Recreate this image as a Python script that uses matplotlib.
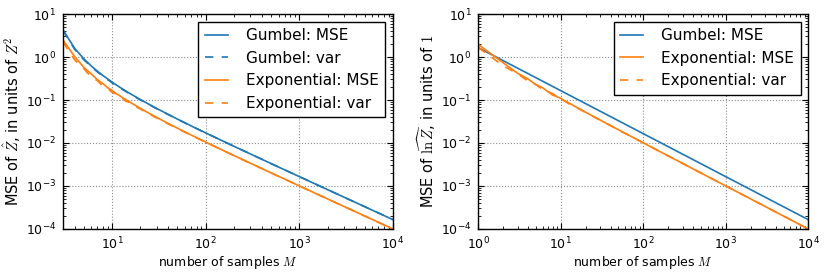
import matplotlib
matplotlib.use("Agg")
import matplotlib.pyplot as plt

# ---------------- data ----------------
# Left panel: MSE of Z-hat, units of Z^2
M_gum_left = [3, 4, 5, 6, 7, 8, 10, 12, 15, 20, 30, 50, 70, 100, 200, 500,
              1000, 2000, 5000, 10000]
gum_mse_left = [4.273, 1.579, 0.9069, 0.6207, 0.4663, 0.3711, 0.2614, 0.2007,
                0.1482, 0.1029, 0.06355, 0.03592, 0.02501, 0.01718, 0.008405,
                0.003318, 0.001652, 0.000824, 0.0003293, 0.0001646]
gum_var_left = [4.117, 1.508, 0.8666, 0.5946, 0.4481, 0.3576, 0.2533, 0.1952,
                0.1448, 0.1010, 0.06275, 0.03564, 0.02488, 0.01711, 0.008388,
                0.003315, 0.001651, 0.000824, 0.0003293, 0.0001646]

M_exp_left = [3, 4, 5, 6, 7, 8, 9, 10, 11, 12, 13, 14, 15, 17, 20, 25, 30, 40,
              50, 70, 100, 150, 200, 300, 500, 700, 1000, 2000, 5000, 10000]
exp_mse_left = [2.48, 1.02, 0.575, 0.405, 0.296, 0.241, 0.193, 0.168, 0.142,
                0.128, 0.112, 0.103, 0.0928, 0.0795, 0.0641, 0.0489, 0.0394,
                0.02834, 0.02211, 0.01535, 0.01051, 0.006893, 0.005127,
                0.003389, 0.002020, 0.001439, 0.001005, 0.000501, 0.0002002,
                0.00010005]
exp_var_left = [2.22, 0.86, 0.535, 0.345, 0.281, 0.209, 0.186, 0.150, 0.139,
                0.115, 0.109, 0.094, 0.0895, 0.0745, 0.0620, 0.0470, 0.0382,
                0.02768, 0.02169, 0.01514, 0.01041, 0.006848, 0.005101,
                0.003378, 0.002016, 0.001437, 0.001004, 0.0005005, 0.0002001,
                0.0001000]

# Right panel: MSE of ln Z-hat, units of 1
M_gum_right = [1, 2, 3, 4, 5, 6, 8, 10, 15, 20, 30, 50, 100, 200, 500, 1000,
               2000, 5000, 10000]
gum_mse_right = [1.645, 0.8225, 0.5483, 0.4112, 0.3290, 0.2742, 0.2056, 0.1645,
                 0.1097, 0.08225, 0.05483, 0.03290, 0.01645, 0.008225,
                 0.003290, 0.001645, 0.0008225, 0.0003290, 0.0001645]

M_exp_right = [1, 2, 3, 4, 5, 6, 7, 8, 9, 10, 11, 12, 15, 20, 30, 50, 70, 100,
               200, 500, 1000, 2000, 5000, 10000]
exp_mse_right = [1.95, 0.735, 0.418, 0.309, 0.226, 0.193, 0.155, 0.140, 0.118,
                 0.1095, 0.0962, 0.0893, 0.0703, 0.0519, 0.03418, 0.02030,
                 0.01444, 0.010075, 0.005019, 0.002003, 0.0010008, 0.0005002,
                 0.00020002, 0.000100005]
exp_var_right = [1.66, 0.625, 0.405, 0.275, 0.228, 0.176, 0.157, 0.129, 0.120,
                 0.1025, 0.0965, 0.0855, 0.0691, 0.0512, 0.0339, 0.0202,
                 0.014388, 0.01005, 0.0050125, 0.002002, 0.0010005, 0.0005001,
                 0.0002000, 0.0001]

BLUE = "#1f77b4"
ORANGE = "#ff7f0e"

# ---------------- style (classic-looking) ----------------
plt.rcParams.update({
    "font.family": ["DejaVu Sans"],
    "mathtext.fontset": "cm",
    "axes.unicode_minus": False,
    "xtick.direction": "in",
    "ytick.direction": "in",
    "xtick.top": True,
    "ytick.right": True,
    "xtick.major.size": 4,
    "ytick.major.size": 4,
    "xtick.minor.size": 2,
    "ytick.minor.size": 2,
    "xtick.major.pad": 5,
    "ytick.major.pad": 5,
    "xtick.labelsize": 9,
    "ytick.labelsize": 9,
    "axes.labelsize": 9,
    "axes.linewidth": 1.0,
})

fig = plt.figure(figsize=(8.3, 2.78), dpi=100)
ax1 = fig.add_axes([0.0759, 0.1763, 0.3976, 0.7733])
ax2 = fig.add_axes([0.5763, 0.1763, 0.3976, 0.7733])

lw = 1.2
dash = (0, (5, 5))

ax1.plot(M_gum_left, gum_mse_left, color=BLUE, lw=lw, label="Gumbel: MSE")
ax1.plot(M_gum_left, gum_var_left, color=BLUE, lw=lw, ls=dash, label="Gumbel: var")
ax1.plot(M_exp_left, exp_mse_left, color=ORANGE, lw=lw, label="Exponential: MSE")
ax1.plot(M_exp_left, exp_var_left, color=ORANGE, lw=lw, ls=dash, label="Exponential: var")
ax1.set_xlim(3, 1e4)
ax1.set_ylabel(r"MSE of $\hat{Z}$, in units of $Z^2$", fontsize=10.5, labelpad=2)

ax2.plot(M_gum_right, gum_mse_right, color=BLUE, lw=lw, label="Gumbel: MSE")
ax2.plot(M_exp_right, exp_mse_right, color=ORANGE, lw=lw, label="Exponential: MSE")
ax2.plot(M_exp_right, exp_var_right, color=ORANGE, lw=lw, ls=dash, label="Exponential: var")
ax2.set_xlim(1, 1e4)
ax2.set_ylabel(r"MSE of $\widehat{\ln Z}$, in units of $1$", fontsize=10.5, labelpad=2)

for ax in (ax1, ax2):
    ax.set_xscale("log")
    ax.set_yscale("log")
    ax.set_ylim(1e-4, 10)
    ax.set_xlabel(r"number of samples $M$", labelpad=1)
    ax.grid(True, which="major", color="0.55", ls=":", lw=0.8)
    ax.tick_params(which="both", color="black")
    leg = ax.legend(loc="upper right", fontsize=11, fancybox=False,
                    framealpha=1.0, edgecolor="black", handlelength=1.5,
                    handletextpad=1.2, labelspacing=0.5, borderpad=0.42,
                    borderaxespad=0.5)
    leg.get_frame().set_linewidth(1.0)

fig.savefig("out.png", dpi=100, facecolor="white")
